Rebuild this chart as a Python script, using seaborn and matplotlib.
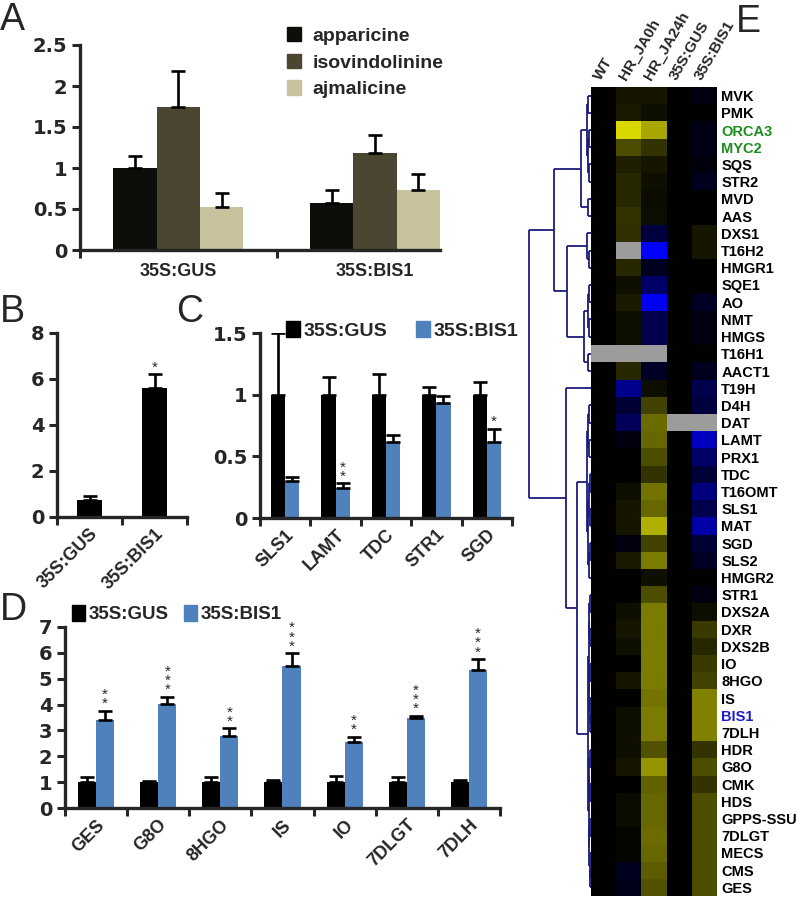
import numpy as np
import pandas as pd
import seaborn as sns
import matplotlib.pyplot as plt
from matplotlib.patches import Patch
from matplotlib.ticker import FuncFormatter
from matplotlib.colors import LinearSegmentedColormap

# ---------------- data ----------------
# A: alkaloid levels
a_lines = ['35S:GUS', '35S:BIS1']
a_compounds = ['apparicine', 'isovindolinine', 'ajmalicine']
a_apparicine = [1.0, 0.57]
a_isovindolinine = [1.75, 1.18]
a_ajmalicine = [0.52, 0.73]
a_apparicine_err = [0.15, 0.16]
a_isovindolinine_err = [0.43, 0.22]
a_ajmalicine_err = [0.18, 0.20]
a_colors = ['#0d0d0a', '#4b4631', '#c9c29e']

# B: BIS1 expression
b_lines = ['35S:GUS', '35S:BIS1']
b_values = [0.75, 5.6]
b_err = [0.15, 0.6]
b_stars = ['', '*']

# C
c_genes = ['SLS1', 'LAMT', 'TDC', 'STR1', 'SGD']
c_gus = [1.0, 1.0, 1.0, 1.0, 1.0]
c_gus_err = [0.5, 0.14, 0.17, 0.06, 0.1]
c_bis = [0.3, 0.24, 0.62, 0.93, 0.62]
c_bis_err = [0.03, 0.04, 0.05, 0.06, 0.1]
c_stars = ['', '**', '', '', '*']

# D
d_genes = ['GES', 'G8O', '8HGO', 'IS', 'IO', '7DLGT', '7DLH']
d_gus = [1.0, 1.0, 1.0, 1.0, 1.0, 1.0, 1.0]
d_gus_err = [0.2, 0.05, 0.18, 0.1, 0.25, 0.2, 0.07]
d_bis = [3.42, 4.02, 2.8, 5.5, 2.55, 3.48, 5.35]
d_bis_err = [0.35, 0.28, 0.28, 0.48, 0.2, 0.08, 0.4]
d_stars = ['**', '***', '**', '***', '**', '***', '***']

line_names = ['35S:GUS', '35S:BIS1']
line_colors = ['#000000', '#4f81bd']

# E: heatmap
nan = np.nan
heat_samples = ['WT', 'HR_JA0h', 'HR_JA24h', '35S:GUS', '35S:BIS1']
heat_genes = ['MVK', 'PMK', 'ORCA3', 'MYC2', 'SQS', 'STR2', 'MVD', 'AAS', 'DXS1', 'T16H2',
              'HMGR1', 'SQE1', 'AO', 'NMT', 'HMGS', 'T16H1', 'AACT1', 'T19H', 'D4H', 'DAT',
              'LAMT', 'PRX1', 'TDC', 'T16OMT', 'SLS1', 'MAT', 'SGD', 'SLS2', 'HMGR2', 'STR1',
              'DXS2A', 'DXR', 'DXS2B', 'IO', '8HGO', 'IS', 'BIS1', '7DLH', 'HDR', 'G8O',
              'CMK', 'HDS', 'GPPS-SSU', '7DLGT', 'MECS', 'CMS', 'GES']
heat_wt = [0, 0, 0, 0, 0, 0, 0, 0, 0, 0,
           0, 0, 0, 0, 0, nan, 0, 0, 0, 0,
           0, 0, 0, 0, 0, 0, 0, 0, 0, 0,
           0, 0, 0, 0, 0, 0, 0, 0, 0, 0,
           0, 0, 0, 0, 0, 0, 0]
heat_ja0 = [0.08, 0.1, 0.85, 0.3, 0.12, 0.15, 0.15, 0.2, 0.18, nan,
            0.15, 0.06, 0.1, 0.06, 0.06, nan, 0.15, -0.55, -0.2, -0.35,
            -0.06, 0, 0, 0.05, 0.08, 0.08, -0.06, 0.1, 0, 0,
            0.06, 0.08, 0.06, 0, 0.08, 0, 0.06, 0.06, 0.06, 0.08,
            0, 0.04, 0.04, 0.02, 0.02, -0.12, -0.1]
heat_ja24 = [0.08, 0.06, 0.65, 0.2, 0.08, 0.06, 0.04, 0.05, -0.25, -1.0,
             -0.12, -0.4, -0.95, -0.3, -0.3, nan, -0.15, 0.05, 0.25, 0.42,
             0.4, 0.3, 0.2, 0.45, 0.4, 0.68, 0.25, 0.48, 0.06, 0.3,
             0.48, 0.48, 0.48, 0.48, 0.48, 0.45, 0.48, 0.48, 0.32, 0.58,
             0.38, 0.4, 0.4, 0.42, 0.4, 0.36, 0.32]
heat_gus = [0, 0, 0, 0, 0, 0, 0, 0, 0, 0,
            0, 0, 0, 0, 0, 0, 0, 0, 0, nan,
            0, 0, 0, 0, 0, 0, 0, 0, 0, 0,
            0, 0, 0, 0, 0, 0, 0, 0, 0, 0,
            0, 0, 0, 0, 0, 0, 0]
heat_bis1 = [-0.06, 0, -0.08, -0.08, -0.05, -0.12, 0, 0, 0.08, 0.08,
             0, 0, -0.15, -0.06, -0.06, 0, -0.12, -0.3, -0.25, nan,
             -0.75, -0.4, -0.22, -0.5, -0.3, -0.65, -0.2, -0.15, 0, -0.06,
             0.05, 0.22, 0.15, 0.22, 0.25, 0.5, 0.5, 0.5, 0.2, 0.3,
             0.2, 0.3, 0.3, 0.3, 0.3, 0.3, 0.3]
label_colors = {'ORCA3': '#1e8c1e', 'MYC2': '#1e8c1e', 'BIS1': '#1c1cc8'}

# row clustering: (merge height, left, right), leaves are row indices
dendro_tree = (62,
    (37,
        (10,
            (4, (3, 0, 1), (3, (2, 2, 3), (2, 4, 5))),
            (3, 6, 7)),
        (24,
            (4, 8, (2, 9, 10)),
            (7, (3, (2, 11, 12), (2, 13, 14)), (3, 15, 16)))),
    (25,
        17,
        (14,
            (4, (3, (2, 18, 19), (2, 20, 21)),
                (3.5, (2.5, (1.5, 22, 23), (1.5, 24, 25)), (2.5, (1.5, 26, 27), 28))),
            (3, (2.5, (2, (1.5, 29, 30), (1.5, 31, 32)),
                      (2, (1.5, 33, 34), (1.5, 35, (1, 36, 37)))),
                (2.5, (2, (1.5, 38, 39), (1.5, 40, 41)),
                      (2, (1.5, 42, 43), (1.5, 44, (1, 45, 46))))))))

# ---------------- style ----------------
sns.set_style('ticks')
plt.rcParams['font.family'] = ['Liberation Sans', 'DejaVu Sans']
plt.rcParams['font.weight'] = 'bold'

W, H = 796, 900
fig = plt.figure(figsize=(W / 100, H / 100), dpi=100)


def px_axes(x0, y0, x1, y1):
    return fig.add_axes([x0 / W, 1 - y1 / H, (x1 - x0) / W, (y1 - y0) / H])


def style_axes(ax, n, ymax, ystep, rot=0):
    ax.set_ylim(0, ymax)
    ax.set_yticks(np.arange(0, ymax + ystep / 2, ystep))
    ax.yaxis.set_major_formatter(FuncFormatter(lambda v, p: f'{v:g}'))
    ax.set_xticks(np.arange(-0.5, n, 1), minor=True)
    ax.tick_params(axis='x', which='major', length=0, pad=6)
    ax.tick_params(axis='x', which='minor', length=6, width=2.2, direction='out')
    ax.tick_params(axis='y', length=6, width=2.2, direction='out', pad=3)
    for s in ['top', 'right']:
        ax.spines[s].set_visible(False)
    for s in ['left', 'bottom']:
        ax.spines[s].set_linewidth(2.4)
    ax.set_xlabel('')
    ax.set_ylabel('')
    for lbl in ax.get_yticklabels():
        lbl.set_family(['DejaVu Sans'])
        lbl.set_fontweight('bold')
        lbl.set_fontsize(14)
    for lbl in ax.get_xticklabels():
        lbl.set_fontweight('bold')
        lbl.set_fontsize(13)
        if rot:
            lbl.set_rotation(rot)
            lbl.set_ha('right')
            lbl.set_rotation_mode('anchor')


def add_errors(ax, errs_list, stars_list=None, star_size=11):
    for i, (cont, errs) in enumerate(zip(ax.containers, errs_list)):
        xs = [b.get_x() + b.get_width() / 2 for b in cont]
        ys = [b.get_height() for b in cont]
        ax.errorbar(xs, ys, yerr=[np.zeros(len(errs)), errs], fmt='none',
                    ecolor='black', elinewidth=1.9, capsize=5, capthick=1.9)
        if stars_list is not None and stars_list[i] is not None:
            for x, y, e, s in zip(xs, ys, errs, stars_list[i]):
                if s:
                    ax.text(x, y + e, '\n'.join(s), ha='center', va='bottom',
                            fontsize=star_size, fontweight='normal', linespacing=0.55)


# ---------------- A ----------------
axA = px_axes(80, 45, 440, 250)
dfA = pd.DataFrame({
    'line': a_lines * 3,
    'compound': [c for c in a_compounds for _ in a_lines],
    'value': a_apparicine + a_isovindolinine + a_ajmalicine,
})
sns.barplot(data=dfA, x='line', y='value', hue='compound', hue_order=a_compounds,
            palette=a_colors, width=0.66, saturation=1, errorbar=None,
            legend=False, linewidth=0, ax=axA)
add_errors(axA, [a_apparicine_err, a_isovindolinine_err, a_ajmalicine_err])
style_axes(axA, 2, 2.5, 0.5)
axA.set_xlim(-0.5, 1.33)
axA.tick_params(axis='x', which='major', pad=9)
fig.legend([Patch(color=c) for c in a_colors], a_compounds, loc='upper left',
           bbox_to_anchor=(287 / W, 1 - 27 / H), frameon=False, borderpad=0,
           borderaxespad=0, handlelength=0.7, handleheight=0.75, handletextpad=0.6,
           labelspacing=0.45, prop={'size': 14, 'weight': 'bold'})

# ---------------- B ----------------
axB = px_axes(57, 333, 187, 517)
dfB = pd.DataFrame({'line': b_lines, 'value': b_values})
sns.barplot(data=dfB, x='line', y='value', color='black', width=0.37,
            saturation=1, errorbar=None, linewidth=0, ax=axB)
add_errors(axB, [b_err], [b_stars])
style_axes(axB, 2, 8, 2, rot=45)
axB.set_xlim(-0.5, 1.5)

# ---------------- C ----------------
axC = px_axes(260, 333, 512, 518)
dfC = pd.DataFrame({
    'gene': c_genes * 2,
    'line': [l for l in line_names for _ in c_genes],
    'value': c_gus + c_bis,
})
sns.barplot(data=dfC, x='gene', y='value', hue='line', hue_order=line_names,
            palette=line_colors, width=0.56, saturation=1, errorbar=None,
            legend=False, linewidth=0, ax=axC)
add_errors(axC, [c_gus_err, c_bis_err], [None, c_stars])
style_axes(axC, 5, 1.5, 0.5, rot=45)
axC.set_xlim(-0.5, 4.5)
fig.legend([Patch(color=c) for c in line_colors], line_names, loc='upper left',
           bbox_to_anchor=(286 / W, 1 - 321 / H), frameon=False, ncol=2,
           borderpad=0, borderaxespad=0, handlelength=0.7, handleheight=0.9,
           handletextpad=0.2, columnspacing=1.5, prop={'size': 14, 'weight': 'bold'})

# ---------------- D ----------------
axD = px_axes(65, 627, 500, 808)
dfD = pd.DataFrame({
    'gene': d_genes * 2,
    'line': [l for l in line_names for _ in d_genes],
    'value': d_gus + d_bis,
})
sns.barplot(data=dfD, x='gene', y='value', hue='line', hue_order=line_names,
            palette=line_colors, width=0.58, saturation=1, errorbar=None,
            legend=False, linewidth=0, ax=axD)
add_errors(axD, [d_gus_err, d_bis_err], [None, d_stars])
style_axes(axD, 7, 7, 1, rot=45)
axD.set_xlim(-0.5, 6.5)
fig.legend([Patch(color=c) for c in line_colors], line_names, loc='upper left',
           bbox_to_anchor=(72 / W, 1 - 605 / H), frameon=False, ncol=2,
           borderpad=0, borderaxespad=0, handlelength=0.7, handleheight=0.9,
           handletextpad=0.2, columnspacing=0.8, prop={'size': 13.5, 'weight': 'bold'})

# ---------------- E ----------------
axE = px_axes(591, 87, 717, 896)
heat_df = pd.DataFrame({
    'WT': heat_wt, 'HR_JA0h': heat_ja0, 'HR_JA24h': heat_ja24,
    '35S:GUS': heat_gus, '35S:BIS1': heat_bis1,
}, index=heat_genes)[heat_samples]
cmap = LinearSegmentedColormap.from_list('blue_black_yellow', ['#0000ff', '#000000', '#ffff00'])
sns.heatmap(heat_df, cmap=cmap, vmin=-1, vmax=1, cbar=False, ax=axE,
            xticklabels=True, yticklabels=True)
axE.set_facecolor('#9c9c9c')
axE.xaxis.tick_top()
axE.yaxis.tick_right()
axE.tick_params(length=0, pad=3)
axE.set_xticklabels(heat_samples, rotation=60, ha='left', rotation_mode='anchor',
                    fontsize=11, fontweight='bold')
axE.set_yticklabels(heat_genes, rotation=0, fontsize=10.5, fontweight='bold')
for lbl in axE.get_yticklabels():
    lbl.set_color(label_colors.get(lbl.get_text(), 'black'))
axE.set_xlabel('')
axE.set_ylabel('')

# dendrogram on the left of the heatmap
axT = px_axes(515, 87, 591, 896)
axT.set_xlim(76, 0)
axT.set_ylim(len(heat_genes), 0)
axT.axis('off')


def draw_node(node):
    if not isinstance(node, tuple):
        return node + 0.5, 0
    h, left, right = node
    y1, h1 = draw_node(left)
    y2, h2 = draw_node(right)
    kw = dict(color='#1b1b7c', lw=1.3, solid_capstyle='butt')
    axT.plot([h1, h], [y1, y1], **kw)
    axT.plot([h2, h], [y2, y2], **kw)
    axT.plot([h, h], [y1, y2], **kw)
    return (y1 + y2) / 2, h


draw_node(dendro_tree)

# panel letters
for letter, x, y in [('A', 0, 2), ('B', 0, 294), ('C', 176, 294), ('D', 0, 592), ('E', 736, 4)]:
    fig.text(x / W, 1 - y / H, letter, fontsize=27, fontweight='normal', va='top', ha='left')

fig.savefig('out.png', dpi=100)
